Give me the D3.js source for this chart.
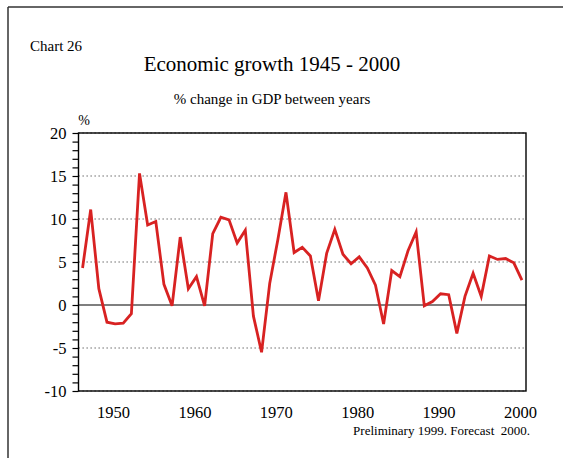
<!DOCTYPE html>
<html><head><meta charset="utf-8">
<script src="https://cdn.jsdelivr.net/npm/d3@7"></script>
<style>
html,body{margin:0;padding:0;background:#fff;}
svg{display:block;font-family:"Liberation Serif","Times New Roman",serif;}
</style></head>
<body><svg id="c" width="563" height="458"></svg>
<script>
const years = d3.range(1946, 2001);
const growth = [
  4.3, 11.1, 1.9, -2.0, -2.2, -2.1, -1.0, 15.3, 9.3, 9.7,
  2.4, -0.1, 7.9, 1.9, 3.3, -0.1, 8.3, 10.2, 9.9, 7.2,
  8.7, -1.3, -5.5, 2.5, 7.6, 13.1, 6.1, 6.7, 5.7, 0.5,
  6.0, 8.8, 5.9, 4.8, 5.6, 4.3, 2.3, -2.2, 4.0, 3.3,
  6.3, 8.5, -0.1, 0.4, 1.3, 1.2, -3.3, 1.0, 3.7, 1.0,
  5.7, 5.3, 5.4, 4.9, 2.9
];
const yTicks = [-10, -5, 0, 5, 10, 15, 20];
const xTicks = [1950, 1960, 1970, 1980, 1990, 2000];
const gridVals = [-10, -5, 5, 10, 15, 20];

const svg = d3.select("#c");
const L = 78.5, R = 526, T = 133, B = 391;
const x = d3.scaleLinear().domain([1945.5, 2000.5]).range([L, R]);
const y = d3.scaleLinear().domain([-10, 20]).range([B, T]);

// page border (top and left)
svg.append("line").attr("x1", 8).attr("x2", 563).attr("y1", 7).attr("y2", 7)
  .attr("stroke", "#333").attr("stroke-width", 1.5);
svg.append("line").attr("x1", 8).attr("x2", 8).attr("y1", 7).attr("y2", 458)
  .attr("stroke", "#333").attr("stroke-width", 1.5);

// texts
svg.append("text").attr("x", 30).attr("y", 51).attr("font-size", 15).text("Chart 26");
svg.append("text").attr("x", 272).attr("y", 71).attr("font-size", 21)
  .attr("text-anchor", "middle").text("Economic growth 1945 - 2000");
svg.append("text").attr("x", 272).attr("y", 104).attr("font-size", 15)
  .attr("text-anchor", "middle").text("% change in GDP between years");
svg.append("text").attr("x", 84).attr("y", 125).attr("font-size", 14)
  .attr("text-anchor", "middle").text("%");
svg.append("text").attr("x", 530).attr("y", 435).attr("font-size", 13)
  .attr("text-anchor", "end").attr("xml:space", "preserve").text("Preliminary 1999. Forecast  2000.");

// gridlines
svg.append("g").selectAll("line").data(gridVals).join("line")
  .attr("x1", L).attr("x2", R).attr("y1", d => y(d)).attr("y2", d => y(d))
  .attr("stroke", "#555").attr("stroke-width", 1.2).attr("stroke-dasharray", "1.3,2.7");

// frame
svg.append("rect").attr("x", L).attr("y", T).attr("width", R - L).attr("height", B - T)
  .attr("fill", "none").attr("stroke", "#000").attr("stroke-width", 1.4);
// zero line
svg.append("line").attr("x1", L).attr("x2", R).attr("y1", y(0)).attr("y2", y(0))
  .attr("stroke", "#000").attr("stroke-width", 1.2);

// y axis with minor ticks
const yAxis = d3.axisLeft(y).tickValues(d3.range(-10, 21, 1)).tickSize(6)
  .tickFormat(d => yTicks.includes(d) ? d : "");
const gy = svg.append("g").attr("transform", `translate(${L},0)`).call(yAxis);
gy.select(".domain").remove();
gy.selectAll("line").attr("stroke", "#000").attr("stroke-width", 1.2);
gy.selectAll("text").attr("font-size", 16.5).attr("font-family", "Liberation Serif, serif")
  .attr("fill", "#000").attr("x", -12).attr("dy", "0.35em");

// x axis labels
const xAxis = d3.axisBottom(x).tickValues(xTicks).tickSize(0).tickFormat(d3.format("d"));
const gx = svg.append("g").attr("transform", `translate(0,${B})`).call(xAxis);
gx.select(".domain").remove();
gx.selectAll("text").attr("font-size", 16.5).attr("font-family", "Liberation Serif, serif")
  .attr("fill", "#000").attr("y", 27).attr("dy", 0).attr("dx", -2);

// line
const line = d3.line().x((d, i) => x(years[i])).y(d => y(d));
svg.append("path").datum(growth).attr("d", line)
  .attr("fill", "none").attr("stroke", "#d82222").attr("stroke-width", 2.8)
  .attr("stroke-linejoin", "miter");
</script></body></html>
